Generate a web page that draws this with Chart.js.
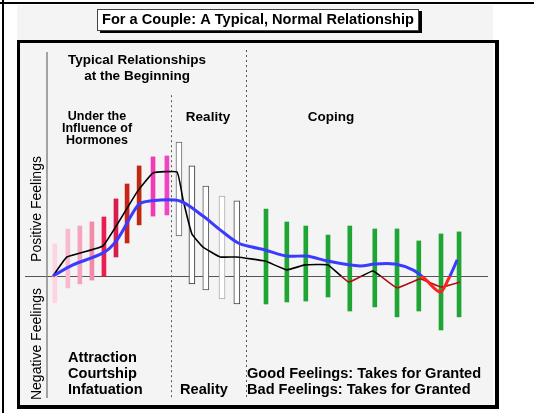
<!DOCTYPE html>
<html>
<head>
<meta charset="utf-8">
<title>For a Couple: A Typical, Normal Relationship</title>
<script src="https://cdn.jsdelivr.net/npm/chart.js@4.4.0/dist/chart.umd.min.js"></script>
<style>
  html, body { margin: 0; padding: 0; background: #fff; }
</style>
</head>
<body>
<canvas id="chart" width="534" height="413"></canvas>
<script>
// Phase 1: "Under the Influence of Hormones" (pink / red bars)
const hormoneX    = [1.7, 4.5, 7.1, 9.7, 12.3, 14.9, 17.3, 19.9, 22.9, 25.9];
const hormoneLow  = [-11.9, -5.3, -3.5, -1.8, 0, 8.4, 14.6, 22.6, 26.5, 27.0];
const hormoneHigh = [14.2, 20.8, 22.1, 23.9, 26.1, 34.1, 40.7, 48.7, 52.7, 53.1];
const hormoneColors = ["#fcd4e4", "#f9b9d0", "#f6a3c0", "#f28aa8", "#ec1c50",
                       "#d61d4d", "#c8241c", "#c02810", "#f23ab4", "#f044c4"];

// Phase 2: "Reality" (hollow grey bars)
const realityX    = [28.5, 31.3, 34.3, 37.8, 41.0];
const realityLow  = [17.7, -3.5, -6.2, -10.2, -12.4];
const realityHigh = [59.3, 48.7, 39.8, 35.4, 33.2];
const realityColors = ["#666666", "#333333", "#555555", "#aaaaaa", "#444444"];

// Phase 3: "Coping" (green bars)
const copingX    = [47.3, 51.8, 55.9, 60.7, 65.4, 70.8, 75.6, 80.3, 85.1, 89.0];
const copingLow  = [-12.4, -11.5, -11.1, -9.3, -15.5, -13.7, -18.1, -15.5, -23.9, -18.1];
const copingHigh = [29.6, 23.9, 22.1, 18.1, 22.1, 20.8, 20.8, 15.5, 18.6, 19.5];

// Black line
const blackX = [1.3, 4.3, 12.1, 19.4, 22.9, 28.1, 29.4, 31.3, 33.7, 37.4, 41.0, 47.1,
                51.8, 55.7, 60.7, 65.2, 70.4, 75.6, 80.6, 85.1, 89.2];
const blackY = [0, 8.4, 13.3, 37, 45.6, 46, 33.6, 18.6, 12.8, 8.4, 8.4, 6.6,
                2.7, 4.9, 4.9, -2.7, 2.2, -5.3, -1.3, -4.9, -2.7];

// Blue line
const blueX = [1.3, 5.6, 12.1, 15.1, 19.7, 22.2, 28.7, 33.7, 37.4, 41.3, 44.3, 47.1,
               51.8, 56.1, 60.7, 67.6, 70.8, 75.1, 79.0, 81.5, 84.9, 86.6, 88.6];
const blueY = [0, 4.9, 10.2, 15.9, 31.4, 33.2, 33.2, 26.5, 20.4, 14.6, 12.8, 11.5,
               8.8, 8.8, 6.6, 4.4, 5.3, 5.3, 2.7, -1, -7.1, -1.8, 7.1];

// Separadores de fases
const phaseBreaks = [26.8, 43.0];
const phaseBreakTops = [80, 100];

const FONT = "'Liberation Sans', Arial, Helvetica, sans-serif";

function toBars(xs, lows, highs) {
    return xs.map((x, i) => ({ x: x, y: [lows[i], highs[i]] }));
}
function toPoints(xs, ys) {
    return xs.map((x, i) => ({ x: x, y: ys[i] }));
}

// Color por encima / por debajo de cero
function splitColor(above, below) {
    return (ctx) => {
        const chart = ctx.chart;
        const area = chart.chartArea;
        if (!area) return above;
        const zero = chart.scales.y.getPixelForValue(0);
        const t = Math.min(1, Math.max(0, (zero - area.top) / (area.bottom - area.top)));
        const g = chart.ctx.createLinearGradient(0, area.top, 0, area.bottom);
        g.addColorStop(0, above);
        g.addColorStop(t, above);
        g.addColorStop(t, below);
        g.addColorStop(1, below);
        return g;
    };
}

// Marco, fondo y caja del título
const framePlugin = {
    id: "frame",
    beforeDraw(chart) {
        const c = chart.ctx;
        c.save();
        c.fillStyle = "#ffffff";
        c.fillRect(0, 0, chart.width, chart.height);
        c.fillStyle = "#f4f4f4";
        c.fillRect(17, 5, 476, 403);
        c.fillStyle = "#000";
        c.fillRect(0, 2, chart.width, 2);
        c.fillRect(2, 0, 2, chart.height);
        // inner box
        c.fillRect(17, 40, 482, 3);
        c.fillRect(17, 40, 3, 369);
        c.fillRect(495, 40, 4, 369);
        c.fillRect(17, 405, 482, 4);
        // title box
        c.fillStyle = "#ffffff";
        c.fillRect(97, 9, 321, 21);
        c.fillStyle = "#000";
        c.fillRect(419, 11, 3, 22);
        c.fillRect(100, 30, 322, 3);
        c.strokeStyle = "#444";
        c.lineWidth = 1;
        c.strokeRect(97.5, 9.5, 321, 21);
        c.fillStyle = "#000";
        c.font = "bold 14.6px " + FONT;
        c.textAlign = "center";
        c.textBaseline = "middle";
        c.fillText("For a Couple: A Typical, Normal Relationship", 258, 20);
        c.restore();
    },
    beforeDatasetsDraw(chart) {
        const c = chart.ctx;
        const x = chart.scales.x, y = chart.scales.y, a = chart.chartArea;
        c.save();
        // zero line
        c.strokeStyle = "#555";
        c.lineWidth = 1;
        const z = Math.round(y.getPixelForValue(0)) + 0.5;
        c.beginPath();
        c.moveTo(a.left, z);
        c.lineTo(a.right, z);
        c.stroke();
        // y axis
        c.strokeStyle = "#888";
        c.lineWidth = 1.5;
        const x0 = x.getPixelForValue(0);
        c.beginPath();
        c.moveTo(x0, a.top + 2);
        c.lineTo(x0, a.bottom);
        c.stroke();
        // dotted phase separators
        c.strokeStyle = "#555";
        c.lineWidth = 1;
        c.setLineDash([2, 3]);
        phaseBreaks.forEach((v, i) => {
            const px = Math.round(x.getPixelForValue(v)) + 0.5;
            c.beginPath();
            c.moveTo(px, y.getPixelForValue(phaseBreakTops[i]));
            c.lineTo(px, a.bottom);
            c.stroke();
        });
        c.restore();
    },
    afterDraw(chart) {
        const c = chart.ctx;
        c.save();
        c.fillStyle = "#000";
        c.textBaseline = "middle";
        c.textAlign = "center";
        c.font = "bold 13.5px " + FONT;
        c.fillText("Typical Relationships", 137, 60);
        c.fillText("at the Beginning", 137, 76);
        c.font = "bold 12.5px " + FONT;
        c.fillText("Under the", 97, 117);
        c.fillText("Influence of", 97, 129);
        c.fillText("Hormones", 97, 141);
        c.font = "bold 13.5px " + FONT;
        c.fillText("Reality", 208, 117);
        c.fillText("Coping", 331, 117);
        c.textAlign = "left";
        c.font = "bold 14.6px " + FONT;
        c.fillText("Attraction", 68, 358);
        c.fillText("Courtship", 68, 374);
        c.fillText("Infatuation", 68, 390);
        c.fillText("Reality", 180, 390);
        c.fillText("Good Feelings: Takes for Granted", 247, 374);
        c.fillText("Bad Feelings: Takes for Granted", 247, 390);
        // rotated axis labels
        c.font = "14px " + FONT;
        c.textAlign = "center";
        c.save();
        c.translate(37, 209);
        c.rotate(-Math.PI / 2);
        c.fillText("Positive Feelings", 0, 0);
        c.restore();
        c.save();
        c.translate(37, 344);
        c.rotate(-Math.PI / 2);
        c.fillText("Negative Feelings", 0, 0);
        c.restore();
        c.restore();
    }
};

new Chart(document.getElementById("chart"), {
    type: "bar",
    data: {
        datasets: [
            {
                type: "line",
                label: "Partner A",
                data: toPoints(blueX, blueY),
                borderColor: splitColor("#3b3bff", "#ff2020"),
                borderWidth: 3,
                tension: 0.3,
                pointRadius: 0,
                fill: false,
                order: 0
            },
            {
                type: "line",
                label: "Partner B",
                data: toPoints(blackX, blackY),
                borderColor: splitColor("#000000", "#b01010"),
                borderWidth: 1.6,
                tension: 0.1,
                pointRadius: 0,
                fill: false,
                order: 1
            },
            {
                label: "Hormones",
                data: toBars(hormoneX, hormoneLow, hormoneHigh),
                backgroundColor: hormoneColors,
                borderWidth: 0,
                barThickness: 4,
                order: 2
            },
            {
                label: "Reality",
                data: toBars(realityX, realityLow, realityHigh),
                backgroundColor: "#ffffff",
                borderColor: realityColors,
                borderWidth: 1,
                borderSkipped: false,
                barThickness: 6,
                order: 2
            },
            {
                label: "Coping",
                data: toBars(copingX, copingLow, copingHigh),
                backgroundColor: "#1ea533",
                borderWidth: 0,
                barThickness: 4,
                order: 2
            }
        ]
    },
    options: {
        responsive: false,
        animation: false,
        grouped: false,
        layout: { padding: { left: 25, right: 46, top: 50, bottom: 15 } },
        scales: {
            x: { type: "linear", min: -4.75, max: 95.25, offset: false, display: false },
            y: { type: "linear", min: -54, max: 100, display: false }
        },
        plugins: {
            legend: { display: false },
            tooltip: { enabled: false }
        }
    },
    plugins: [framePlugin]
});
</script>
</body>
</html>
